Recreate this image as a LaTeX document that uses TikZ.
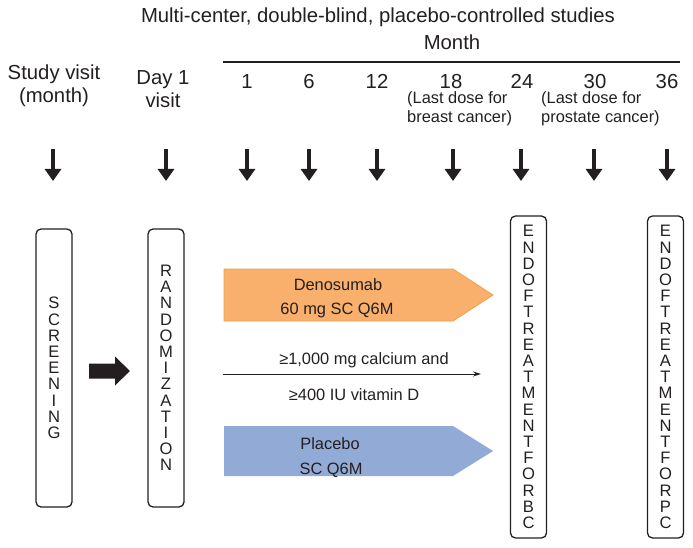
\documentclass[tikz,border=0pt]{standalone}
\usepackage{fontspec}
\setmainfont{Liberation Sans}
\usetikzlibrary{arrows.meta}
\definecolor{ink}{RGB}{35,31,32}
\definecolor{orfill}{RGB}{249,176,108}
\definecolor{orline}{RGB}{242,160,72}
\definecolor{blfill}{RGB}{146,171,214}
\begin{document}
\begin{tikzpicture}[x=1pt,y=-1pt,
  every node/.style={inner sep=0pt,text=ink},
  big/.style={font=\fontsize{20.3}{24}\selectfont,anchor=base},
  small/.style={font=\fontsize{16.4}{20}\selectfont,anchor=base west},
  body/.style={font=\fontsize{16.4}{20}\selectfont,anchor=base},
  vbox/.style={draw=ink,line width=1.3pt,rounded corners=5pt,minimum width=36pt,
    align=center,font=\fontsize{16.6}{16.2}\selectfont},
  downarrow/.style={draw=ink,line width=4.8pt,-{Triangle[width=16pt,length=12pt]}},
  bigarrow/.style={fill=ink},
  thinarrow/.style={draw=ink,line width=0.9pt,-{Stealth[length=8pt,width=5pt]}}
]
\useasboundingbox (0,0) rectangle (693,548);

% header
\node[big] (title) at (378,23) {Multi-center, double-blind, placebo-controlled studies};
\node[big] (month) at (452,50) {Month};
\coordinate (hl) at (223,62);
\coordinate (hr) at (680,62);
\draw[ink,line width=1.4pt] (hl) -- (hr);

\node[big] (sv1) at (54,80) {Study visit};
\node[big] (sv2) at (54,103) {(month)};
\node[big] (d1) at (163,85) {Day 1};
\node[big] (d2) at (163,108) {visit};
\foreach \x/\t [count=\i] in {247/1,309/6,377/12,451/18,522/24,595/30,667/36}
  \node[big] (m\i) at (\x,88.5) {\t};
\node[small] (n1a) at (407,104) {(Last dose for};
\node[small] (n1b) at (407,123) {breast cancer)};
\node[small] (n2a) at (541,104) {(Last dose for};
\node[small] (n2b) at (541,123) {prostate cancer)};

% down arrows
\foreach \x [count=\i] in {53,166,247,309,377,453,521,594,667} {
  \coordinate (dt\i) at (\x,149);
  \coordinate (db\i) at (\x,181);
  \draw[downarrow] (dt\i) -- (db\i);
}

% boxes
\node[vbox,minimum height=278pt] (scr) at (54,368) {S\\C\\R\\E\\E\\N\\I\\N\\G};
\node[vbox,minimum height=278pt] (rnd) at (166,368) {R\\A\\N\\D\\O\\M\\I\\Z\\A\\T\\I\\O\\N};
\node[vbox,minimum height=322pt] (eobc) at (528.5,377) {E\\N\\D\\O\\F\\T\\R\\E\\A\\T\\M\\E\\N\\T\\F\\O\\R\\B\\C};
\node[vbox,minimum height=322pt] (eopc) at (665.5,377) {E\\N\\D\\O\\F\\T\\R\\E\\A\\T\\M\\E\\N\\T\\F\\O\\R\\P\\C};

% big arrow
\fill[bigarrow] (89,363.5) -- (115,363.5) -- (115,356.5) -- (130,371) -- (115,385.5) -- (115,378.5) -- (89,378.5) -- cycle;

% denosumab arrow
\filldraw[fill=orfill,draw=orline,line width=0.8pt] (224,269) -- (453,269) -- (493,295) -- (453,321) -- (224,321) -- cycle;
\node[body] (den1) at (338,290) {Denosumab};
\node[body] (den2) at (337,314) {60 mg SC Q6M};

% calcium line
\coordinate (ca) at (223,374);
\coordinate (cb) at (481,374);
\draw[thinarrow] (ca) -- (cb);
\node[body] (cal1) at (364,364) {≥1,000 mg calcium and};
\node[body] (cal2) at (354,400) {≥400 IU vitamin D};

% placebo arrow
\fill[blfill] (224,426) -- (453,426) -- (493,451) -- (453,476) -- (224,476) -- cycle;
\node[body] (pl1) at (330,449) {Placebo};
\node[body] (pl2) at (331,474) {SC Q6M};
\end{tikzpicture}
\end{document}
